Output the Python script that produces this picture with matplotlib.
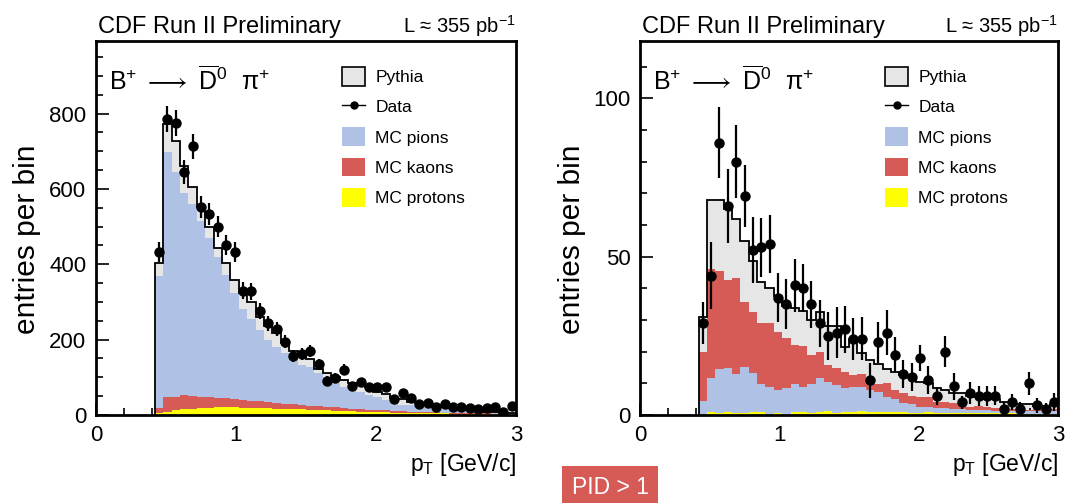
'''CDF Run II B+ -> D0bar pi+ pT spectra: all tracks vs PID > 1.'''

import numpy as np
import matplotlib
matplotlib.use("Agg")
import matplotlib.pyplot as plt
from matplotlib.patches import Patch
from matplotlib.lines import Line2D

plt.rcParams["font.family"] = ["Liberation Sans", "DejaVu Sans"]
plt.rcParams["mathtext.fontset"] = "custom"
plt.rcParams["mathtext.rm"] = "Liberation Sans"
plt.rcParams["mathtext.it"] = "Liberation Sans:italic"

# Binning: 0.06 GeV/c bins, filled from 0.42 to 3.0
edges = np.linspace(0.42, 3.0, 44)
centers = 0.5 * (edges[:-1] + edges[1:])

# ---- left panel (all tracks) ----
pythia_L = [403, 772, 726, 660, 606, 552, 498, 444, 403, 359, 325, 301, 261, 235,
            217, 190, 170, 159, 148, 121, 112, 100, 93, 86, 80, 75, 62, 56, 44, 42,
            35, 31, 29, 22, 22, 18, 17, 13, 12, 9, 9, 6, 6]
pions_L = [351, 650, 598, 537, 509, 467, 423, 375, 328, 281, 242, 217, 190, 166,
           149, 134, 123, 106, 103, 88, 79, 64, 57, 49, 47, 39, 34, 28, 22, 17,
           17, 14, 13, 11, 11, 7, 7, 7, 5, 5, 5, 4, 3]
kaons_L = [14, 38, 35, 38, 34, 30, 28, 25, 24, 22, 21, 19, 18, 16, 15, 13, 12, 12,
           11, 10, 9, 9, 8, 7, 6, 6, 6, 5, 5, 4, 4, 3, 4, 3, 2, 3, 2, 2, 2, 2, 1, 1, 1]
protons_L = [4, 9, 13, 15, 17, 18, 19, 20, 20, 20, 19, 19, 18, 18, 17, 17, 16, 15,
             14, 13, 12, 11, 10, 10, 9, 8, 7, 7, 6, 6, 5, 5, 4, 4, 4, 3, 3, 3, 2, 2,
             2, 2, 2]
data_L = [432, 785, 775, 645, 713, 553, 533, 500, 452, 432, 330, 328, 277, 243,
          228, 195, 156, 161, 170, 134, 91, 99, 120, 77, 87, 74, 74, 73, 42, 59,
          44, 28, 32, 22, 29, 22, 21, 19, 15, 19, 22, 7, 23]
err_L = [26, 35, 35, 32, 33, 29, 29, 28, 27, 26, 23, 23, 21, 19, 19, 17, 16, 16,
         16, 15, 12, 12, 14, 11, 12, 11, 11, 11, 8, 10, 8, 7, 7, 6, 7, 6, 6, 5, 5,
         5, 6, 3, 6]

# ---- right panel (PID > 1) ----
pythia_R = [31, 68, 68, 65, 62, 55, 48.5, 42, 40, 37.5, 34.5, 33.8, 32.8, 30, 32.5,
            28, 28, 21.5, 24, 19.5, 17.5, 16, 14.5, 13.5, 12.5, 11.8, 10.5, 10, 8.5,
            8, 7, 6.8, 6, 5.8, 5.2, 5, 4.2, 4, 3.6, 3.4, 2.8, 2.8, 3.4]
pions_R = [4.2, 10.8, 14.0, 13.8, 12.2, 14.7, 12.2, 8.8, 8.5, 7.4, 8.0, 8.8, 7.9,
           9.2, 10.8, 9.2, 8.9, 7.7, 7.9, 7.8, 7.0, 6.2, 4.8, 4.1, 3.1, 2.7, 1.9,
           1.8, 1.6, 1.5, 1.3, 1.2, 1.1, 1.0, 1.0, 0.9, 0.9, 0.8, 0.8, 0.8, 0.7,
           0.8, 0.8]
kaons_R = [15.5, 34.4, 30.9, 27.9, 30.3, 20.5, 19.5, 19.4, 20.0, 18.4, 15.8, 12.3,
           12.9, 9.1, 8.4, 5.5, 5.2, 4.9, 3.7, 3.9, 3.6, 2.6, 4.4, 2.9, 3.1, 2.5,
           3.2, 3.0, 1.9, 2.1, 1.7, 2.0, 1.0, 1.2, 1.0, 0.7, 1.1, 0.5, 0.4, 0.4,
           0.7, 0.7, 0.7]
protons_R = [0.3, 0.8, 0.5, 0.9, 0.6, 0.5, 0.9, 0.9, 0.4, 0.5, 0.4, 1.0, 1.0, 0.6,
             0.8, 1.1, 0.6, 0.9, 1.0, 1.1, 0.9, 1.0, 0.8, 0.9, 0.8, 0.7, 0.7, 0.8,
             0.7, 0.6, 0.7, 0.6, 0.5, 0.6, 0.5, 0.5, 0.4, 0.5, 0.4, 0.4, 0.4, 0.3,
             0.3]
data_R = [29, 44, 86, 66, 80, 69, 52, 53, 54, 37, 35, 41, 40, 35, 29, 25, 26, 27,
          24, 24, 11, 23, 26, 19, 13, 12, 18, 11, 6, 20, 9, 4, 7, 6, 6, 6, 2, 4, 2,
          10, 3, 2, 4]
err_R = [6.6, 10.5, 11.1, 11.7, 11.4, 9.8, 10.4, 9.3, 9.2, 7.7, 7.9, 8.4, 7.6, 7.4,
         7.4, 7.5, 8.0, 7.3, 6.5, 6.8, 5.5, 6.5, 7.0, 5.5, 4.4, 4.3, 4.2, 4.5, 2.7,
         4.9, 4.4, 2.1, 3.5, 3.3, 3.3, 3.0, 2.0, 2.5, 2.0, 3.7, 2.5, 1.8, 2.8]

c_gray = "#e6e6e6"
c_pion = "#afc1e4"
c_kaon = "#d65a56"
c_prot = "#ffff00"


def draw_panel(ax, pythia, stack, data, err, ymax, ymajor, yminor):
    ax.stairs(pythia, edges, fill=True, color=c_gray, zorder=1)
    ax.stairs(pythia, edges, color="black", lw=1.3, zorder=3)
    # stacked MC species, bottom to top
    base = np.zeros(len(edges) - 1)
    tops = []
    for vals, col in stack:
        top = base + np.asarray(vals, float)
        tops.append((top, base.copy(), col))
        base = top
    for top, bot, col in tops:
        ax.stairs(top, edges, baseline=bot, fill=True, color=col, zorder=2)
    ax.errorbar(centers, data, yerr=err, fmt="o", color="black", ms=6.5,
                elinewidth=1.6, capsize=0, zorder=4)

    ax.set_xlim(0, 3)
    ax.set_ylim(0, ymax)
    ax.set_xticks([0, 1, 2, 3])
    ax.set_xticks(np.arange(0, 3.01, 0.2), minor=True)
    ax.set_yticks(np.arange(0, ymax, ymajor))
    ax.set_yticks(np.arange(0, ymax, yminor), minor=True)
    ax.tick_params(which="both", direction="in", top=False, right=False,
                   labelsize=16, width=1.2)
    ax.tick_params(which="major", length=9, pad=7)
    ax.tick_params(which="minor", length=5)
    for s in ax.spines.values():
        s.set_linewidth(2)
    ax.set_xlabel(r"p$_\mathregular{T}$ [GeV/c]", fontsize=16.5, loc="right",
                  labelpad=4)
    ax.set_ylabel("entries per bin", fontsize=21.5, labelpad=5)
    ax.yaxis.set_label_coords(-0.13, 0.47)

    ax.text(0.03, 0.935,
            r"$\mathrm{B^{+}\ \longrightarrow\ \overline{D}^{0}\ \ \pi^{+}}$",
            transform=ax.transAxes, fontsize=18, va="top", ha="left")
    ax.text(0.005, 1.022, "CDF Run II Preliminary", transform=ax.transAxes,
            fontsize=17, ha="left", va="baseline")
    ax.text(1.0, 1.022, r"L ≈ 355 pb$^{\mathregular{-1}}$",
            transform=ax.transAxes, fontsize=14.5, ha="right", va="baseline")

    handles = [
        Patch(facecolor=c_gray, edgecolor="black", lw=1.2),
        Line2D([0], [0], color="black", marker="o", ms=5, lw=1),
        Patch(facecolor=c_pion, edgecolor="none"),
        Patch(facecolor=c_kaon, edgecolor="none"),
        Patch(facecolor=c_prot, edgecolor="none"),
    ]
    labels = ["Pythia", "Data", "MC pions", "MC kaons", "MC protons"]
    ax.legend(handles, labels, loc="upper left", bbox_to_anchor=(0.57, 0.95),
              frameon=False, fontsize=12.5, handlelength=1.3, handleheight=1.3,
              labelspacing=0.65, handletextpad=0.6, borderaxespad=0)


fig = plt.figure(figsize=(10.65, 5.03), dpi=100)
ax1 = fig.add_axes([0.0901, 0.175, 0.3944, 0.743])
ax2 = fig.add_axes([0.6010, 0.175, 0.3925, 0.743])

draw_panel(ax1, pythia_L,
           [(protons_L, c_prot), (kaons_L, c_kaon), (pions_L, c_pion)],
           data_L, err_L, 992, 200, 50)
draw_panel(ax2, pythia_R,
           [(protons_R, c_prot), (pions_R, c_pion), (kaons_R, c_kaon)],
           data_R, err_R, 118, 50, 10)

fig.text(0.573, 0.031, "PID > 1", color="white", fontsize=16.5, ha="center",
         va="center",
         bbox=dict(boxstyle="square,pad=0.42", facecolor=c_kaon, edgecolor="none"))

fig.savefig("out.png", dpi=100)
